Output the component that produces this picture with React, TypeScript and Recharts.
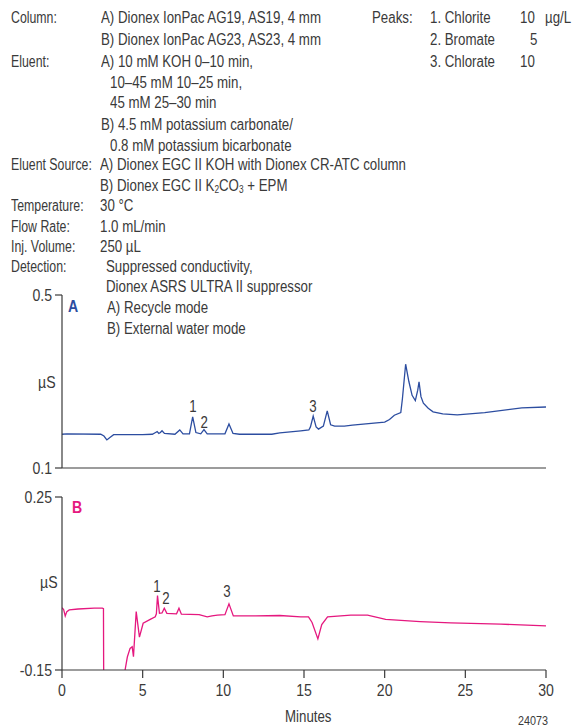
import { ComposedChart, Line, Scatter, XAxis, YAxis } from "recharts"

// minutes, µS
const traceA: [number, number][] = [
  [0, 0.178], [0.3, 0.179], [2.4, 0.178], [2.6, 0.174], [2.78, 0.165], [2.95, 0.17], [3.2, 0.177],
  [5.0, 0.177], [5.6, 0.178], [5.8, 0.182], [5.9, 0.184], [6.0, 0.18], [6.1, 0.182], [6.2, 0.186],
  [6.35, 0.18], [7.0, 0.178], [7.3, 0.188], [7.5, 0.179], [7.9, 0.179], [8.1, 0.218], [8.3, 0.182],
  [8.6, 0.179], [8.8, 0.189], [9.0, 0.179], [10.1, 0.179], [10.35, 0.202], [10.6, 0.18], [11.0, 0.178],
  [13.0, 0.178], [13.5, 0.181], [14.8, 0.186], [15.3, 0.188], [15.4, 0.195], [15.57, 0.22], [15.75, 0.195],
  [15.9, 0.19], [16.2, 0.197], [16.44, 0.232], [16.65, 0.2], [16.9, 0.197], [17.5, 0.197], [18.0, 0.199],
  [20.0, 0.206], [20.3, 0.212], [20.6, 0.222], [21.0, 0.228], [21.1, 0.26], [21.3, 0.34], [21.5, 0.3],
  [21.7, 0.268], [21.9, 0.256], [22.05, 0.28], [22.13, 0.299], [22.25, 0.265], [22.4, 0.25], [22.7, 0.238],
  [23.0, 0.23], [23.6, 0.225], [24.5, 0.223], [26.2, 0.228], [28.5, 0.239], [30, 0.241],
]

const traceB: [number, number][] = [
  [0, -0.006], [0.1, -0.01], [0.2, -0.025], [0.3, -0.015], [0.45, -0.011], [1.0, -0.009], [2.0, -0.007],
  [2.5, -0.007], [2.57, -0.008], [2.6, -0.35], [3.7, -0.35], [3.91, -0.15], [4.05, -0.12], [4.22, -0.1],
  [4.35, -0.096], [4.43, -0.119], [4.6, -0.015], [4.8, -0.074], [5.03, -0.042], [5.47, -0.033],
  [5.78, -0.027], [5.85, -0.02], [5.92, 0.022], [6.04, -0.019], [6.2, -0.018], [6.34, -0.007],
  [6.5, -0.019], [7.1, -0.02], [7.25, -0.007], [7.4, -0.021], [8.5, -0.022], [9.0, -0.027], [9.3, -0.025],
  [9.63, -0.023], [10.1, -0.022], [10.35, 0.003], [10.62, -0.025], [12, -0.025], [13.5, -0.024],
  [14.8, -0.027], [15.28, -0.027], [15.5, -0.04], [15.86, -0.078], [16.1, -0.045], [16.46, -0.027],
  [17.9, -0.023], [18.94, -0.023], [20.06, -0.033], [22.2, -0.038], [24.1, -0.041], [27.2, -0.044],
  [30, -0.048],
]

// peak numbers: minutes, µS where the number sits
const peaksA: [number, number, string][] = [[8.12, 0.243, "1"], [8.82, 0.205, "2"], [15.55, 0.242, "3"]]
const peaksB: [number, number, string][] = [[5.88, 0.044, "1"], [6.44, 0.016, "2"], [10.23, 0.031, "3"]]

const minuteTicks = [0, 5, 10, 15, 20, 25, 30]
const ticksA = [0.1, 0.5]
const ticksB = [-0.15, 0.25]

// no narrow face installed, so Liberation Sans squeezed horizontally
const FONT = "'Liberation Sans', Arial, sans-serif"
const SQ = 0.83
const SQ_LABEL = 0.77
const INK = "#3a3a3a"
const BLUE = "#2c4da0"
const PINK = "#e5187f"

const toRows = (tr: [number, number][]) => tr.map(([t, v]) => ({ t, v }))
const toLabels = (p: [number, number, string][]) => p.map(([t, v, label]) => ({ t, v, label }))

const PeakNum = (props: any) => (
  <text transform={`translate(${props.cx},${props.cy}) scale(${SQ},1)`} textAnchor="middle"
    dominantBaseline="central" fontSize={16} fontFamily={FONT} fill={INK}>{props.payload.label}</text>
)

const YTick = (props: any) => (
  <text transform={`translate(${props.x},${props.y}) scale(${SQ},1)`} textAnchor="end"
    dominantBaseline="central" fontSize={17} fontFamily={FONT} fill={INK}>{props.payload.value}</text>
)

const XTick = (props: any) => (
  <text transform={`translate(${props.x},${props.y}) scale(${SQ},1)`} textAnchor="middle"
    dy="0.85em" fontSize={17} fontFamily={FONT} fill={INK}>{props.payload.value}</text>
)

function Txt({ x, y, children, style, sq = SQ }: { x: number; y: number; children: any; style?: any; sq?: number }) {
  return (
    <div style={{ position: "absolute", left: x, top: y - 10, lineHeight: "20px", whiteSpace: "nowrap",
      transform: `scaleX(${sq})`, transformOrigin: "0 50%", ...style }}>
      {children}
    </div>
  )
}

const Lbl = (p: { y: number; children: any }) => <Txt x={11} y={p.y} sq={SQ_LABEL}>{p.children}</Txt>

function Panel({ rows, labels, ticks, color, showX }: any) {
  return (
    <ComposedChart width={574} height={showX ? 213 : 205} margin={{ top: 10, right: 28, bottom: 0, left: 0 }}>
      <XAxis type="number" dataKey="t" domain={[0, 30]} ticks={minuteTicks} tickSize={8} tickMargin={4}
        height={showX ? 30 : 22} tick={showX ? XTick : false}
        stroke={INK} strokeWidth={1.2} allowDataOverflow />
      <YAxis type="number" domain={[ticks[0], ticks[1]]} ticks={ticks} width={62} tickSize={7} tickMargin={3}
        tick={YTick} stroke={INK} strokeWidth={1.2} allowDataOverflow />
      <Line data={rows} dataKey="v" type="linear" dot={false} stroke={color} strokeWidth={1.3} isAnimationActive={false} />
      <Scatter data={labels} dataKey="v" shape={PeakNum} isAnimationActive={false} />
    </ComposedChart>
  )
}

export default function App() {
  return (
    <div style={{ position: "absolute", left: 0, top: 0, width: 574, height: 726, background: "#fff",
      fontFamily: FONT, fontSize: 16, color: INK, overflow: "hidden" }}>
      <Lbl y={18}>Column:</Lbl>
      <Txt x={101} y={18}>A) Dionex IonPac AG19, AS19, 4 mm</Txt>
      <Txt x={101} y={40}>B) Dionex IonPac AG23, AS23, 4 mm</Txt>
      <Lbl y={62}>Eluent:</Lbl>
      <Txt x={101} y={62}>A) 10 mM KOH 0–10 min,</Txt>
      <Txt x={110} y={83}>10–45 mM 10–25 min,</Txt>
      <Txt x={110} y={103}>45 mM 25–30 min</Txt>
      <Txt x={101} y={125}>B) 4.5 mM potassium carbonate/</Txt>
      <Txt x={110} y={146}>0.8 mM potassium bicarbonate</Txt>
      <Lbl y={165}>Eluent Source:</Lbl>
      <Txt x={100} y={165}>A) Dionex EGC II KOH with Dionex CR-ATC column</Txt>
      <Txt x={100} y={186}>
        B) Dionex EGC II K<span style={{ fontSize: 10, verticalAlign: "-2px" }}>2</span>CO
        <span style={{ fontSize: 10, verticalAlign: "-2px" }}>3</span> + EPM
      </Txt>
      <Lbl y={206}>Temperature:</Lbl>
      <Txt x={100} y={206}>30 °C</Txt>
      <Lbl y={227}>Flow Rate:</Lbl>
      <Txt x={100} y={227}>1.0 mL/min</Txt>
      <Lbl y={247}>Inj. Volume:</Lbl>
      <Txt x={100} y={247}>250 µL</Txt>
      <Lbl y={267}>Detection:</Lbl>
      <Txt x={106} y={267}>Suppressed conductivity,</Txt>
      <Txt x={106} y={287}>Dionex ASRS ULTRA II suppressor</Txt>
      <Txt x={107} y={308}>A) Recycle mode</Txt>
      <Txt x={107} y={329}>B) External water mode</Txt>

      <Txt x={372} y={18}>Peaks:</Txt>
      <Txt x={430} y={18}>1. Chlorite</Txt>
      <Txt x={430} y={40}>2. Bromate</Txt>
      <Txt x={430} y={62}>3. Chlorate</Txt>
      <Txt x={520} y={18}>10</Txt>
      <Txt x={545} y={18}>µg/L</Txt>
      <Txt x={530} y={40}>5</Txt>
      <Txt x={520} y={62}>10</Txt>

      <div style={{ position: "absolute", left: 0, top: 285 }}>
        <Panel rows={toRows(traceA)} labels={toLabels(peaksA)} ticks={ticksA} color={BLUE} showX={false} />
      </div>
      <div style={{ position: "absolute", left: 0, top: 487 }}>
        <Panel rows={toRows(traceB)} labels={toLabels(peaksB)} ticks={ticksB} color={PINK} showX />
      </div>

      <Txt x={38} y={383} style={{ fontSize: 17 }}>µS</Txt>
      <Txt x={40} y={583} style={{ fontSize: 17 }}>µS</Txt>
      <Txt x={68} y={307} style={{ fontWeight: "bold", color: BLUE, fontSize: 17 }}>A</Txt>
      <Txt x={72} y={508} style={{ fontWeight: "bold", color: PINK, fontSize: 17 }}>B</Txt>
      <Txt x={285} y={717} style={{ fontSize: 16 }}>Minutes</Txt>
      <Txt x={518} y={721} style={{ fontSize: 13 }}>24073</Txt>
    </div>
  )
}
